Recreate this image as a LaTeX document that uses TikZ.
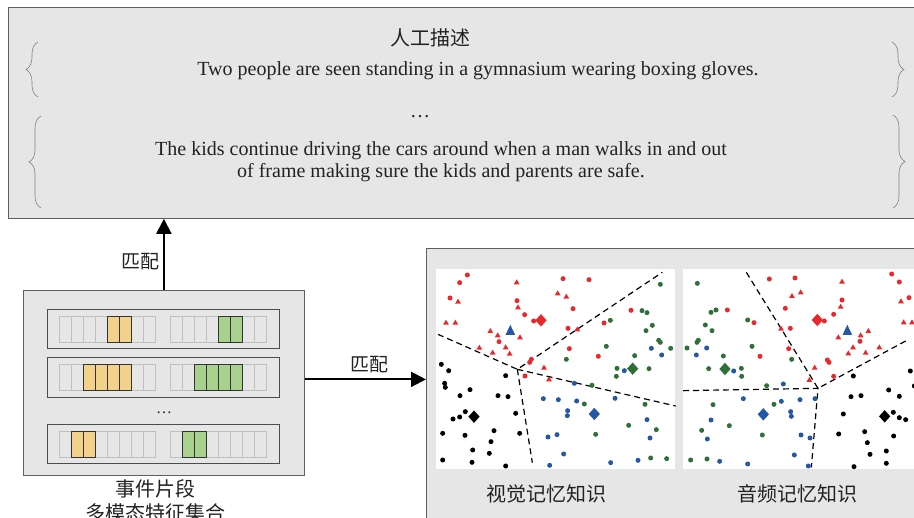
\documentclass[tikz,border=0pt]{standalone}
\usepackage{fontspec}
\setmainfont{Liberation Serif}
\newfontfamily\cjk{Noto Sans CJK SC}
\usetikzlibrary{arrows.meta,decorations.pathreplacing}
\definecolor{bg}{HTML}{E6E6E6}
\definecolor{frame}{HTML}{606060}
\definecolor{cellline}{HTML}{BFBFBF}
\definecolor{yel}{HTML}{F3D18A}
\definecolor{grn}{HTML}{A9D18E}
\definecolor{myred}{HTML}{E8282B}
\definecolor{mygreen}{HTML}{2F6F38}
\definecolor{myblue}{HTML}{2557A6}
\definecolor{txt}{HTML}{222222}
\newcommand\sdots[2]{\foreach \x/\y in {#2} {\fill[#1] (\x,\y) circle[radius=2.5pt];}}
\newcommand\stris[2]{\foreach \x/\y in {#2} {\fill[#1] (\x,\y) ++(0pt,3pt) -- ++(-2.9pt,-5pt) -- ++(5.8pt,0pt) -- cycle;}}
\newcommand\bigdia[3]{\fill[#1] (#2,#3) ++(0pt,6.2pt) -- ++(5.6pt,-6.2pt) -- ++(-5.6pt,-6.2pt) -- ++(-5.6pt,6.2pt) -- cycle;}
\newcommand\bigtri[3]{\fill[#1] (#2,#3) ++(0pt,5.5pt) -- ++(-4.8pt,-10pt) -- ++(9.6pt,0pt) -- cycle;}
\begin{document}
\begin{tikzpicture}[x=1pt,y=-1pt,
  panelbox/.style={draw=frame, fill=bg, line width=0.8pt, inner sep=0pt, anchor=north west},
  arr/.style={-{Triangle[length=15pt,width=15pt]}, line width=2pt},
  cjkl/.style={font=\cjk\fontsize{19}{22}\selectfont, text=txt, inner sep=0pt},
  entxt/.style={font=\fontsize{20}{22}\selectfont, text=txt, inner sep=0pt, align=center},
  bracel/.style={draw=gray, line width=0.6pt, decorate, decoration={brace, amplitude=12pt, aspect=0.5}},
  cellg/.style={draw=cellline, fill=bg, line width=0.7pt},
  celly/.style={draw=black!80, fill=yel, line width=0.7pt},
  cellgr/.style={draw=black!80, fill=grn, line width=0.7pt},
  rowbox/.style={draw=black!70, fill=bg, line width=0.8pt},
  vline/.style={dashed, dash pattern=on 6pt off 4pt, line width=1.2pt, black}]
\useasboundingbox (0,0) rectangle (914,518);
\clip (0,0) rectangle (914,518);

% top box
\node[panelbox, minimum width=930pt, minimum height=211pt] (topbox) at (8,7) {};
\node[cjkl, font=\cjk\fontsize{20}{22}\selectfont] (t0) at (430,38) {人工描述};
\node[entxt] (t1) at (478,71) {Two people are seen standing in a gymnasium wearing boxing gloves.};
\node[entxt] (t2) at (420,117) {…};
\node[entxt] (t3) at (441,162) {The kids continue driving the cars around when a man walks in and out\\of frame making sure the kids and parents are safe.};
\draw[bracel] (38,97) -- (38,42);
\draw[bracel] (41,208) -- (41,116);
\draw[bracel] (892,42) -- (892,97);
\draw[bracel] (893,115) -- (893,208);

% left box
\node[panelbox, minimum width=281pt, minimum height=185pt] (evbox) at (23,290) {};
\draw[rowbox] (47,309) rectangle (279,348);
\draw[rowbox] (47,357) rectangle (279,397);
\draw[rowbox] (47,424) rectangle (279,463);
\foreach \cy in {316,364,431} {
  \foreach \i in {0,...,7} {
    \draw[cellg] (59+12*\i,\cy) rectangle ++(12,26);
    \draw[cellg] (170+12*\i,\cy) rectangle ++(12,26);
  }
}
\foreach \i in {4,5} {\draw[celly] (59+12*\i,316) rectangle ++(12,26); \draw[cellgr] (170+12*\i,316) rectangle ++(12,26);}
\foreach \i in {2,3,4,5} {\draw[celly] (59+12*\i,364) rectangle ++(12,26); \draw[cellgr] (170+12*\i,364) rectangle ++(12,26);}
\foreach \i in {1,2} {\draw[celly] (59+12*\i,431) rectangle ++(12,26); \draw[cellgr] (170+12*\i,431) rectangle ++(12,26);}
\node[entxt, font=\fontsize{16}{18}\selectfont] (ld) at (164,413) {…};
\node[cjkl, font=\cjk\fontsize{20}{22}\selectfont] (l1) at (155,489) {事件片段};
\node[cjkl, font=\cjk\fontsize{20}{22}\selectfont] (l2) at (155,513) {多模态特征集合};

% right box
\node[panelbox, minimum width=520pt, minimum height=300pt] (rbox) at (426,248) {};
\fill[white] (436,269) rectangle (675,469);
\fill[white] (683,269) rectangle (930,469);
\node[cjkl, font=\cjk\fontsize{20}{22}\selectfont] (v1) at (546,494) {视觉记忆知识};
\node[cjkl, font=\cjk\fontsize{20}{22}\selectfont] (v2) at (797,494) {音频记忆知识};

% arrows
\draw[arr] (evbox.north) -- (evbox.north |- topbox.south);
\node[cjkl] (m1) at (140,262) {匹配};
\draw[arr] ([yshift=3.5pt]evbox.east) -- ([yshift=3.5pt]evbox.east -| rbox.west);
\node[cjkl] (m2) at (369,365) {匹配};

% panel 1
\begin{scope}[shift={(430pt,-260pt)}, x=0.33333pt, y=-0.33333pt]
\draw[vline] (24,223) -- (262,328) -- (697,37);
\draw[vline] (262,328) -- (737,438);
\draw[vline] (262,328) -- (307,608);
\sdots{myred}{112/45,89/68,60/114,399/56,477/59,261/122,284/164,311/183,429/146,414/205,522/189,603/151,207/245,418/266,505/289,299/307,304/298,285/348}
\stris{myred}{84/125,48/188,76/188,260/67,383/100,409/110,264/142,181/213,203/226,270/232,148/263,188/278,227/262,239/281,442/208,342/323,357/358}
\sdots{mygreen}{691/73,636/152,651/158,541/181,667/196,648/212,686/241,691/247,722/265,529/259,614/287,409/298,561/325,559/349,657/326,486/376,463/432,645/433,596/496,679/509,497/523,662/594,710/596}
\sdots{myblue}{664/265,695/285,583/332,433/370,340/416,385/419,440/423,555/415,413/452,412/467,651/479,660/534,381/524,354/531,401/582,359/616,542/608,624/601}
\sdots{black}{34/313,56/332,44/370,46/382,120/389,90/407,204/407,234/410,227/347,106/455,89/471,69/477,257/460,38/520,105/526,192/512,269/520,183/545,128/570,178/580,38/600,126/607,227/618}
\bigdia{myred}{333}{181}
\bigdia{mygreen}{608}{326}
\bigdia{myblue}{493}{462}
\bigdia{black}{132}{470}
\bigtri{myblue}{241}{211}
\end{scope}

% panel 2
\begin{scope}[shift={(675pt,-260pt)}, x=0.33333pt, y=-0.33333pt]
\draw[vline] (214,37) -- (429,385) -- (692,243);
\draw[vline] (24,392) -- (429,385) -- (409,622);
\sdots{myred}{283/57,360/54,650/42,673/66,702/113,157/150,237/188,331/145,346/205,448/183,476/163,501/120,555/244,341/266,255/289,457/300,462/307,476/349}
\stris{myred}{501/65,351/108,377/97,497/140,318/206,490/232,557/226,580/213,534/262,520/280,572/278,613/262,686/187,711/187,419/323,403/360,678/124}
\sdots{mygreen}{67/70,108/157,123/150,91/195,111/212,218/180,70/241,66/247,36/264,231/259,145/288,101/326,199/325,200/349,350/298,275/377,114/434,297/433,163/497,80/511,262/525,47/600,96/597}
\sdots{myblue}{95/264,64/285,176/333,325/372,205/416,319/424,375/419,420/416,347/455,349/469,108/480,97/537,378/525,405/534,358/585,134/604,218/612,400/618}
\sdots{black}{535/348,706/333,718/378,641/390,528/410,558/407,673/409,505/462,655/457,673/473,692/479,491/522,569/515,656/528,577/548,585/583,634/573,634/610,537/620}
\bigdia{myred}{427}{180}
\bigdia{mygreen}{150}{327}
\bigdia{myblue}{265}{463}
\bigdia{black}{629}{469}
\bigtri{myblue}{517}{211}
\end{scope}
\end{tikzpicture}
\end{document}
